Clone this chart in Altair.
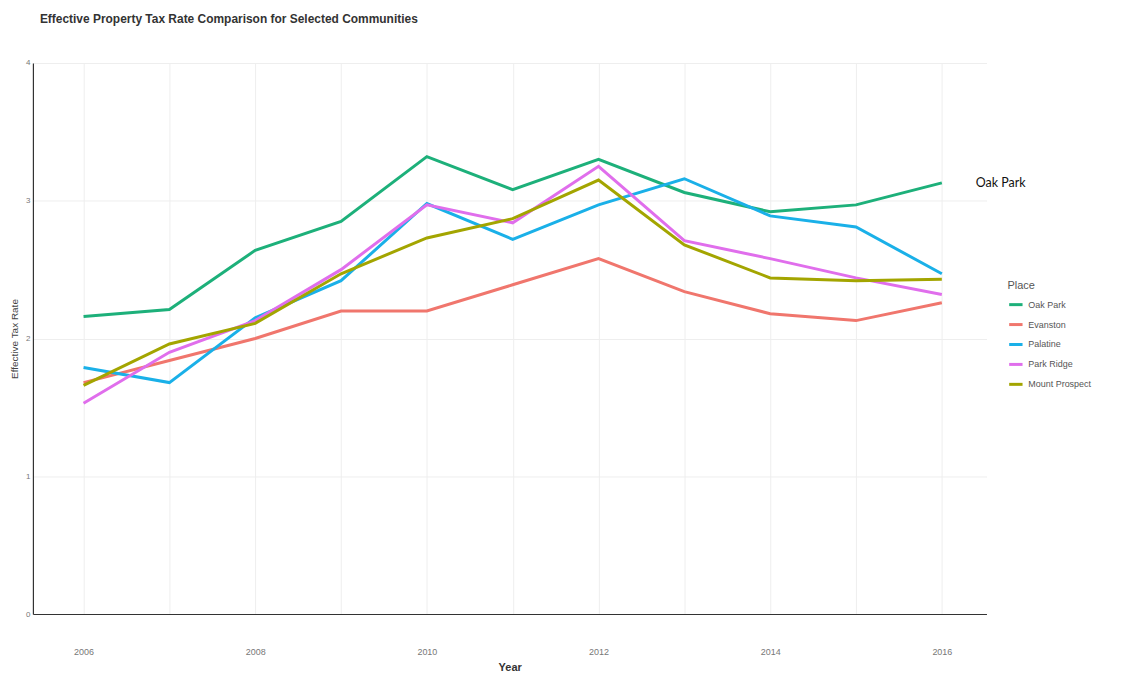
import altair as alt
import pandas as pd

years = [2006, 2007, 2008, 2009, 2010, 2011, 2012, 2013, 2014, 2015, 2016]
places = ["Oak Park", "Evanston", "Palatine", "Park Ridge", "Mount Prospect"]
colors = ["#1DB07A", "#F0766D", "#1AB0E8", "#E06EEC", "#A3A500"]

oak_park = [2.16, 2.21, 2.64, 2.85, 3.32, 3.08, 3.30, 3.06, 2.92, 2.97, 3.13]
evanston = [1.68, 1.84, 2.00, 2.20, 2.20, 2.39, 2.58, 2.34, 2.18, 2.13, 2.26]
palatine = [1.79, 1.68, 2.15, 2.42, 2.98, 2.72, 2.97, 3.16, 2.89, 2.81, 2.47]
park_ridge = [1.53, 1.90, 2.13, 2.50, 2.97, 2.84, 3.25, 2.71, 2.58, 2.44, 2.32]
mount_prospect = [1.66, 1.96, 2.11, 2.47, 2.73, 2.87, 3.15, 2.68, 2.44, 2.42, 2.43]

series = [oak_park, evanston, palatine, park_ridge, mount_prospect]
rows = []
for p, vals in zip(places, series):
    for y, v in zip(years, vals):
        rows.append({"Year": y, "Place": p, "Rate": v})
df = pd.DataFrame(rows)

font = "Liberation Sans"

x = alt.X("Year:Q",
          scale=alt.Scale(domain=[2005.41, 2016.52], nice=False, zero=False),
          axis=alt.Axis(title="Year", values=years,
                        labelExpr="datum.value % 2 == 0 ? datum.label : ''",
                        format="d", grid=True, gridColor="#eeeeee", ticks=False,
                        domainColor="#333333", domainWidth=1.2,
                        labelFontSize=9, labelColor="#777777", labelPadding=34,
                        titleFontSize=11, titleFontWeight="bold", titleColor="#333333",
                        titlePadding=5, labelFont=font, titleFont=font))
y = alt.Y("Rate:Q",
          scale=alt.Scale(domain=[0, 4], nice=False),
          axis=alt.Axis(title="Effective Tax Rate",
                        values=[0, 0.5, 1, 1.5, 2, 2.5, 3, 3.5, 4],
                        labelExpr="datum.value % 1 == 0 ? datum.label : ''",
                        format="d",
                        grid=True, gridColor="#eeeeee", ticks=False,
                        domainColor="#333333", domainWidth=1.2,
                        labelFontSize=8, labelColor="#777777", labelPadding=3,
                        titleFontSize=10, titleFontWeight="normal", titleColor="#444444",
                        titlePadding=6, labelFont=font, titleFont=font))

color = alt.Color("Place:N",
                  scale=alt.Scale(domain=places, range=colors),
                  legend=alt.Legend(title="Place", orient="none", legendX=978, legendY=218,
                                    symbolType="stroke", symbolStrokeWidth=3, symbolSize=180,
                                    titleFontSize=11, titleFontWeight="normal", titleColor="#555555",
                                    labelFontSize=9, labelColor="#555555", rowPadding=5,
                                    titleFont=font, labelFont=font))

lines = alt.Chart(df).mark_line(strokeWidth=3).encode(x=x, y=y, color=color, order="Year:Q")

label = alt.Chart(df).transform_filter(
    (alt.datum.Place == "Oak Park") & (alt.datum.Year == 2016)
).mark_text(align="left", baseline="middle", dx=34, fontSize=12.5, font="Lato", color="#111111").encode(
    x="Year:Q", y="Rate:Q", text="Place:N"
)

chart = (lines + label).properties(
    width=957, height=553,
    title=alt.TitleParams("Effective Property Tax Rate Comparison for Selected Communities",
                          anchor="start", frame="group", dx=7, offset=33, fontSize=12, fontWeight="bold",
                          color="#333333", font=font),
    autosize=alt.AutoSizeParams(type="none"),
    padding={"left": 25, "top": 54, "right": 130, "bottom": 60},
).configure(background="white").configure_view(stroke=None)

chart.save("out.html", embed_options={"renderer": "svg", "actions": False})
